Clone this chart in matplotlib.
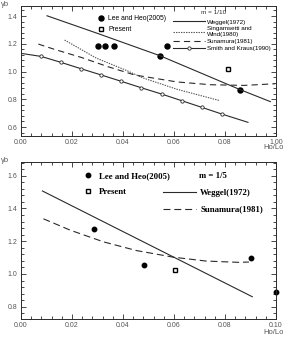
import matplotlib
matplotlib.use("Agg")
import matplotlib.pyplot as plt
from matplotlib.ticker import MultipleLocator, FixedLocator, FixedFormatter
import numpy as np

plt.rcParams['lines.scale_dashes'] = False
plt.rcParams['font.family'] = ['Liberation Sans', 'DejaVu Sans']

# ---------------- data: top panel (m = 1/10) ----------------
weg10_x = [0.0102, 0.0300, 0.0545, 0.0860, 0.0978]
weg10_y = [1.402, 1.275, 1.114, 0.869, 0.783]
sw10_x = [0.0171, 0.0295, 0.0416, 0.0480, 0.0612, 0.0776]
sw10_y = [1.227, 1.097, 1.006, 0.953, 0.872, 0.792]
sun10_x = [0.0068, 0.0131, 0.0236, 0.0341, 0.0446, 0.0612, 0.0743, 0.0874, 0.0997]
sun10_y = [1.198, 1.160, 1.102, 1.035, 0.975, 0.925, 0.905, 0.900, 0.912]
sk10_x = [0.0, 0.0079, 0.0157, 0.0236, 0.0315, 0.0394, 0.0472, 0.0551, 0.0630, 0.0709, 0.0787, 0.0890]
sk10_y = [1.131, 1.109, 1.066, 1.020, 0.975, 0.929, 0.883, 0.838, 0.790, 0.742, 0.694, 0.634]
lee10_x = [0.0302, 0.0331, 0.0364, 0.0545, 0.0573, 0.0860]
lee10_y = [1.181, 1.186, 1.186, 1.114, 1.186, 0.867]
pres10_x = [0.0811]
pres10_y = [1.018]

# ---------------- data: bottom panel (m = 1/5) ----------------
weg5_x = [0.0084, 0.0907]
weg5_y = [1.507, 0.861]
sun5_x = [0.0088, 0.0194, 0.0324, 0.0453, 0.0596, 0.0725, 0.0855, 0.0894]
sun5_y = [1.337, 1.267, 1.196, 1.143, 1.103, 1.079, 1.071, 1.073]
lee5_x = [0.0288, 0.0482, 0.0900, 0.1000]
lee5_y = [1.273, 1.057, 1.095, 0.891]
pres5_x = [0.0604]
pres5_y = [1.022]

xticks = [0.0, 0.02, 0.04, 0.06, 0.08, 0.10]
xlabels_top = ['0.00', '0.02', '0.04', '0.06', '0.08', '1.00']
xlabels_bot = ['0.00', '0.02', '0.04', '0.06', '0.08', '0.10']
yticks_top = [0.6, 0.8, 1.0, 1.2, 1.4]
yticks_bot = [0.8, 1.0, 1.2, 1.4, 1.6]

W, H = 284, 347
fig = plt.figure(figsize=(W / 100, H / 100), dpi=100)
LC = '#2a2a2a'
TC = '#555555'

def ax_at(l, t, r, b):
    return fig.add_axes([l / W, 1 - b / H, (r - l) / W, (b - t) / H])

def style(ax, xlabels, yticks):
    ax.set_xlim(0, 0.1)
    ax.xaxis.set_major_locator(FixedLocator(xticks))
    ax.xaxis.set_major_formatter(FixedFormatter(xlabels))
    ax.xaxis.set_minor_locator(MultipleLocator(0.004))
    ax.yaxis.set_major_locator(FixedLocator(yticks))
    ax.yaxis.set_major_formatter(FixedFormatter(['%.1f' % v for v in yticks]))
    ax.yaxis.set_minor_locator(MultipleLocator(0.04))
    ax.tick_params(which='both', direction='in', top=True, right=True,
                   colors=LC, labelcolor=TC, labelsize=5, width=0.6, pad=2.5)
    ax.tick_params(which='major', length=3.6)
    ax.tick_params(which='minor', length=2.2)
    for s in ax.spines.values():
        s.set_linewidth(0.7)
        s.set_color(LC)

# ---------------- top panel ----------------
ax1 = ax_at(21, 5.5, 276, 135.5)
ax1.set_ylim(0.539, 1.476)
style(ax1, xlabels_top, yticks_top)
h_lee, = ax1.plot(lee10_x, lee10_y, 'o', color='black', ms=3.6, ls='none', label='Lee and Heo(2005)')
h_pre, = ax1.plot(pres10_x, pres10_y, 's', mfc='white', mec='black', mew=1.0, ms=3.4, ls='none', label='Present')
h_weg, = ax1.plot(weg10_x, weg10_y, '-', color=LC, lw=0.8, label='Weggel(1972)')
h_sw, = ax1.plot(sw10_x, sw10_y, color='#555555', lw=0.8, dashes=(1.0, 0.8), label='Singamsetti and\nWind(1980)')
h_sun, = ax1.plot(sun10_x, sun10_y, color=LC, lw=0.8, dashes=(4.5, 3.0), label='Sunamura(1981)')
h_sk, = ax1.plot(sk10_x, sk10_y, '-', color=LC, lw=0.8, marker='o', ms=2.4, mfc='white',
                 mec=LC, mew=0.6, markevery=list(range(1, len(sk10_x) - 1)), label='Smith and Kraus(1990)')

leg1 = ax1.legend(handles=[h_lee, h_pre], loc='upper left', bbox_to_anchor=(0.30, 0.925),
                  frameon=False, fontsize=4.9, handlelength=1.0, handletextpad=0.6,
                  labelspacing=0.55, borderpad=0, borderaxespad=0)
ax1.add_artist(leg1)
leg2 = ax1.legend(handles=[h_weg, h_sw, h_sun, h_sk], loc='upper left', bbox_to_anchor=(0.597, 0.894),
                  frameon=False, fontsize=4.5,
                  handlelength=5.1, handletextpad=0.3, labelspacing=0.27,
                  borderpad=0, borderaxespad=0)
ax1.text(0.757, 0.95, 'm = 1/10', transform=ax1.transAxes, fontsize=4.6, color=LC,
         ha='center', va='center')

fig.text(1 / W, 1 - 5 / H, 'γb', fontsize=5.5, color=TC, va='center', ha='left')
fig.text(283.5 / W, 1 - 148 / H, 'Ho/Lo', fontsize=5.5, color=TC, va='center', ha='right')

# ---------------- bottom panel ----------------
ax2 = ax_at(21, 162, 276, 319)
ax2.set_ylim(0.725, 1.684)
style(ax2, xlabels_bot, yticks_bot)
g_lee, = ax2.plot(lee5_x, lee5_y, 'o', color='black', ms=3.2, ls='none', clip_on=False, label='Lee and Heo(2005)')
g_pre, = ax2.plot(pres5_x, pres5_y, 's', mfc='white', mec='black', mew=1.0, ms=3.4, ls='none', label='Present')
g_weg, = ax2.plot(weg5_x, weg5_y, '-', color=LC, lw=0.8, label='Weggel(1972)')
g_sun, = ax2.plot(sun5_x, sun5_y, color=LC, lw=0.8, dashes=(5.0, 2.8), label='Sunamura(1981)')

serif = {'family': ['Liberation Serif', 'DejaVu Serif'], 'weight': 'bold', 'size': 6.3}
leg3 = ax2.legend(handles=[g_lee, g_pre], loc='upper left', bbox_to_anchor=(0.245, 0.936),
                  frameon=False, prop=serif, handlelength=1.0, handletextpad=0.8,
                  labelspacing=0.9, borderpad=0, borderaxespad=0)
ax2.add_artist(leg3)
leg4 = ax2.legend(handles=[g_weg, g_sun], loc='upper left', bbox_to_anchor=(0.555, 0.937),
                  frameon=False, prop=serif, title='m = 1/5',
                  handlelength=3.8, handletextpad=0.5, labelspacing=1.0,
                  borderpad=0, borderaxespad=0)
leg4.get_title().set_fontproperties(serif)

fig.text(1 / W, 1 - 161 / H, 'γb', fontsize=5.5, color=TC, va='center', ha='left')
fig.text(283.5 / W, 1 - 333 / H, 'Ho/Lo', fontsize=5.5, color=TC, va='center', ha='right')

fig.savefig('out.png', dpi=100)
